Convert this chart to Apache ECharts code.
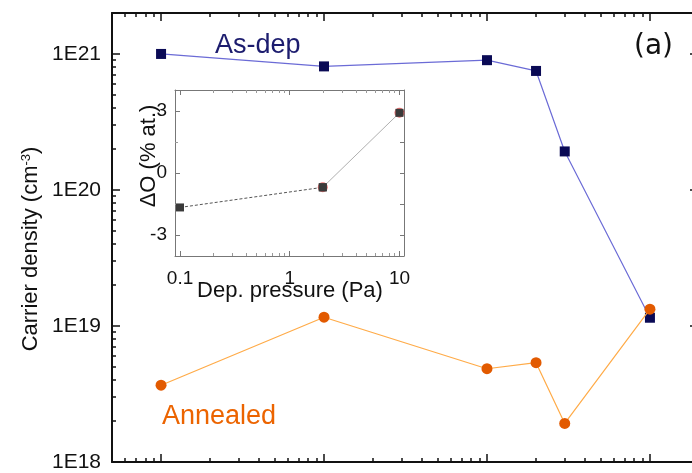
<!DOCTYPE html>
<html>
<head>
<meta charset="utf-8">
<script src="https://cdn.jsdelivr.net/npm/echarts@6/dist/echarts.min.js"></script>
<style>
html, body { margin: 0; padding: 0; background: #fff; }
#main { width: 692px; height: 473px; }
</style>
</head>
<body>
<div id="main"></div>
<script>
// 主图: 载流子浓度 vs 沉积压力
var pressure = [0.1, 1, 10, 20, 30, 100];
var asDep = [1.0e21, 8.1e20, 9.0e20, 7.5e20, 1.92e20, 1.15e19];
var annealed = [3.67e18, 1.16e19, 4.85e18, 5.37e18, 1.92e18, 1.33e19];

// 插图: ΔO vs 压力
var pressureInset = [0.1, 2, 10];
var deltaO = [-1.66, -0.69, 2.9];

// 刻度
var xMajor = [0.1, 1, 10, 100];
var xMinor = [0.06, 0.07, 0.08, 0.09, 0.2, 0.3, 0.4, 0.5, 0.6, 0.7, 0.8, 0.9,
	2, 3, 4, 5, 6, 7, 8, 9, 20, 30, 40, 50, 60, 70, 80, 90, 200];
var yMajor = [1e18, 1e19, 1e20, 1e21];
var yMinor = [2e18, 3e18, 4e18, 5e18, 6e18, 7e18, 8e18, 9e18,
	2e19, 3e19, 4e19, 5e19, 6e19, 7e19, 8e19, 9e19,
	2e20, 3e20, 4e20, 5e20, 6e20, 7e20, 8e20, 9e20];
var insetXMajor = [0.1, 1, 10];
var insetXMinor = [0.2, 0.3, 0.4, 0.5, 0.6, 0.7, 0.8, 0.9, 2, 3, 4, 5, 6, 7, 8, 9];
var insetYMajor = [-3, 0, 3];
var insetYMinor = [-1.5, 1.5];

function pairs(xs, ys) {
	return xs.map(function (x, i) { return [x, ys[i]]; });
}

var font = 'Liberation Sans, Arial, sans-serif';
var black = '#111';

function tickAxis(type, opt) {
	var base = {
		type: type,
		gridIndex: opt.grid,
		position: opt.position,
		min: opt.min,
		max: opt.max,
		axisLine: { show: !!opt.line, onZero: false, lineStyle: { color: opt.color || black, width: opt.width || 2 } },
		axisTick: { show: true, inside: true, length: opt.len, customValues: opt.ticks,
			lineStyle: { color: opt.color || black, width: opt.tickWidth || 1.5 } },
		axisLabel: { show: false },
		splitLine: { show: false },
		minorTick: { show: false }
	};
	if (type === 'log') base.logBase = 10;
	if (opt.labels) {
		base.axisLabel = {
			show: true,
			customValues: opt.labels,
			margin: opt.margin,
			fontSize: opt.fontSize,
			fontFamily: font,
			color: black,
			formatter: opt.formatter
		};
	}
	return base;
}

var myChart = echarts.init(document.getElementById('main'), null, { renderer: 'canvas' });

var option = {
	animation: false,
	backgroundColor: '#fff',
	grid: [
		{ left: 112, top: 13, right: -7, bottom: 11, outerBoundsMode: 'none', containLabel: false },
		{ left: 175, top: 90, right: 288, bottom: 217, outerBoundsMode: 'none', containLabel: false,
			show: true, backgroundColor: '#fff', borderWidth: 0 }
	],
	xAxis: [
		tickAxis('log', { grid: 0, position: 'bottom', min: 0.05, max: 200, line: true, len: 8, ticks: xMajor }),
		tickAxis('log', { grid: 0, position: 'bottom', min: 0.05, max: 200, len: 4, ticks: xMinor }),
		tickAxis('log', { grid: 0, position: 'top', min: 0.05, max: 200, line: true, len: 8, ticks: xMajor }),
		tickAxis('log', { grid: 0, position: 'top', min: 0.05, max: 200, len: 4, ticks: xMinor }),
		tickAxis('log', { grid: 1, position: 'bottom', min: 0.09, max: 11, line: true, len: 5, ticks: insetXMajor,
			color: '#777', width: 1, tickWidth: 1, labels: insetXMajor, margin: 13, fontSize: 19,
			formatter: function (v) { return String(v); } }),
		tickAxis('log', { grid: 1, position: 'bottom', min: 0.09, max: 11, len: 3, ticks: insetXMinor, color: '#999', tickWidth: 1 }),
		tickAxis('log', { grid: 1, position: 'top', min: 0.09, max: 11, line: true, len: 5, ticks: insetXMajor, color: '#777', width: 1, tickWidth: 1 }),
		tickAxis('log', { grid: 1, position: 'top', min: 0.09, max: 11, len: 3, ticks: insetXMinor, color: '#999', tickWidth: 1 })
	],
	yAxis: [
		tickAxis('log', { grid: 0, position: 'left', min: 1e18, max: 2e21, line: true, len: 8, ticks: yMajor,
			labels: yMajor, margin: 11, fontSize: 21,
			formatter: function (v) { return '1E' + Math.round(Math.log10(v)); } }),
		tickAxis('log', { grid: 0, position: 'left', min: 1e18, max: 2e21, len: 4, ticks: yMinor }),
		tickAxis('log', { grid: 0, position: 'right', min: 1e18, max: 2e21, line: true, len: 9, ticks: yMajor }),
		tickAxis('value', { grid: 1, position: 'left', min: -4, max: 4, line: true, len: 5, ticks: insetYMajor,
			color: '#777', width: 1, tickWidth: 1 }),
		tickAxis('value', { grid: 1, position: 'left', min: -4, max: 4, len: 3, ticks: insetYMinor, color: '#999', tickWidth: 1 }),
		tickAxis('value', { grid: 1, position: 'right', min: -4, max: 4, line: true, len: 4, ticks: insetYMajor.concat(insetYMinor),
			color: '#777', width: 1, tickWidth: 1 })
	],
	series: [
		{
			name: 'As-dep',
			type: 'line',
			xAxisIndex: 0,
			yAxisIndex: 0,
			data: pairs(pressure, asDep),
			symbol: 'rect',
			symbolSize: 10,
			lineStyle: { color: '#6b6bd6', width: 1.2 },
			itemStyle: { color: '#0a0a55' },
			z: 3
		},
		{
			name: 'Annealed',
			type: 'line',
			xAxisIndex: 0,
			yAxisIndex: 0,
			data: pairs(pressure, annealed),
			symbol: 'circle',
			symbolSize: 11,
			lineStyle: { color: '#ffab48', width: 1.2 },
			itemStyle: { color: '#e25a00' },
			z: 4
		},
		{
			name: 'insetRed',
			type: 'scatter',
			xAxisIndex: 4,
			yAxisIndex: 3,
			data: pairs(pressureInset, deltaO).slice(1),
			symbol: 'circle',
			symbolSize: 10,
			itemStyle: { color: '#e85050' },
			z: 5
		},
		{
			name: 'insetDash',
			type: 'line',
			xAxisIndex: 4,
			yAxisIndex: 3,
			data: pairs(pressureInset, deltaO).slice(0, 2),
			symbol: 'rect',
			symbolSize: 8,
			lineStyle: { color: '#555', width: 1, type: [3, 2] },
			itemStyle: { color: '#3a3a3a' },
			z: 6
		},
		{
			name: 'insetSolid',
			type: 'line',
			xAxisIndex: 4,
			yAxisIndex: 3,
			data: pairs(pressureInset, deltaO).slice(1),
			symbol: 'rect',
			symbolSize: 8,
			lineStyle: { color: '#b0b0b0', width: 1 },
			itemStyle: { color: '#3a3a3a' },
			z: 6
		}
	]
};

myChart.setOption(option);

// 文字标注
var graphics = [
	{ type: 'text', left: 215, top: 32, z: 10,
		style: { text: 'As-dep', font: '27px ' + font, fill: '#1c1c6e' } },
	{ type: 'text', left: 162, top: 403, z: 10,
		style: { text: 'Annealed', font: '27px ' + font, fill: '#ec6400' } },
	{ type: 'text', left: 634, top: 33, z: 10,
		style: { text: '(a)', font: '28px DejaVu Sans, sans-serif', fill: '#111' } },
	{ type: 'text', x: 31, y: 249, rotation: Math.PI / 2, z: 10,
		style: { text: 'Carrier density (cm{sup|-3})', font: '22px ' + font, fill: '#111',
			align: 'center', verticalAlign: 'middle',
			rich: { sup: { fontSize: 13, fontFamily: font, verticalAlign: 'top', padding: [0, 0, 10, 0] } } } },
	{ type: 'text', x: 149, y: 156, rotation: Math.PI / 2, z: 10,
		style: { text: 'ΔO (% at.)', font: '22px ' + font, fill: '#111', align: 'center', verticalAlign: 'middle' } },
	{ type: 'text', x: 290, y: 291, z: 10,
		style: { text: 'Dep. pressure (Pa)', font: '22px ' + font, fill: '#111', align: 'center', verticalAlign: 'middle' } }
];

// 插图纵轴刻度标签: 位置由插图纵轴换算
var insetLeft = myChart.convertToPixel({ xAxisIndex: 4 }, 0.09);
insetYMajor.forEach(function (v) {
	graphics.push({ type: 'text', x: insetLeft - 8, y: myChart.convertToPixel({ yAxisIndex: 3 }, v), z: 10,
		style: { text: String(v), font: '19px ' + font, fill: '#111', align: 'right', verticalAlign: 'middle' } });
});

myChart.setOption({ graphic: graphics });
</script>
</body>
</html>
